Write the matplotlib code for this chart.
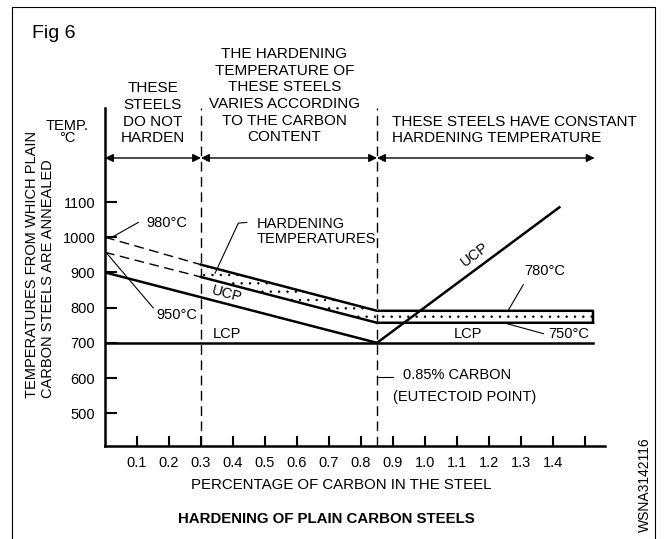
import matplotlib.pyplot as plt
import matplotlib.patches as patches

plt.rcParams['font.family'] = ['Liberation Sans', 'DejaVu Sans']
plt.rcParams['hatch.linewidth'] = 0.5

# carbon content (%) vs temperature (deg C)
x_lcp = [0.0, 1.525]
t_lcp = [700, 700]
x_anneal = [0.0, 0.85]
t_anneal = [900, 700]
x_ucp_dash = [0.0, 0.3]
t_ucp_dash = [957, 887]
x_hard_dash = [0.0, 0.3]
t_hard_dash = [1000, 922]
band_x = [0.3, 0.85, 1.525]
band_lo = [887, 757, 757]
band_hi = [922, 791, 791]
x_ucp_hyper = [0.85, 1.42]
t_ucp_hyper = [700, 1085]

x_ticks = [0.1, 0.2, 0.3, 0.4, 0.5, 0.6, 0.7, 0.8, 0.9, 1.0, 1.1, 1.2, 1.3, 1.4, 1.5]
x_ticklabels = ['0.1', '0.2', '0.3', '0.4', '0.5', '0.6', '0.7', '0.8', '0.9', '1.0',
                '1.1', '1.2', '1.3', '1.4', '']
y_ticks = [500, 600, 700, 800, 900, 1000, 1100]

fig = plt.figure(figsize=(6.64, 5.39), dpi=100)
ax = fig.add_axes([105 / 664, 1 - 446 / 539, 500 / 664, 338 / 539])
ax.set_xlim(0, 1.5625)
ax.set_ylim(407, 1367)

for side in ['top', 'right']:
    ax.spines[side].set_visible(False)
for side in ['left', 'bottom']:
    ax.spines[side].set_linewidth(1.8)

ax.set_xticks(x_ticks)
ax.set_xticklabels(x_ticklabels)
ax.set_yticks(y_ticks)
ax.tick_params(axis='x', direction='in', length=7, width=1.5, pad=7, labelsize=10.5)
ax.tick_params(axis='y', direction='in', length=8.5, width=1.5, pad=7, labelsize=10.5)

lw = 1.8
dash = (0, (7, 4))

# dotted hardening band
ax.fill_between(band_x, band_lo, band_hi, facecolor='white', edgecolor='black',
                hatch='..', linewidth=0)

ax.plot(x_lcp, t_lcp, color='black', lw=lw)
ax.plot(x_anneal, t_anneal, color='black', lw=lw)
ax.plot(x_ucp_dash, t_ucp_dash, color='black', lw=1, ls=dash)
ax.plot(x_hard_dash, t_hard_dash, color='black', lw=1, ls=dash)
ax.plot(band_x, band_lo, color='black', lw=lw)
ax.plot(band_x + [band_x[-1]], band_hi + [band_lo[-1]], color='black', lw=lw)
ax.plot(x_ucp_hyper, t_ucp_hyper, color='black', lw=lw)

# region boundaries
for xb in [0.3, 0.85]:
    ax.plot([xb, xb], [407, 1367], color='black', lw=1, ls=dash, clip_on=False)

# region arrows
arrow_y = 1225
for x0, x1 in [(0.0, 0.3), (0.3, 0.85), (0.85, 1.53)]:
    ax.annotate('', xy=(x0, arrow_y), xytext=(x1, arrow_y),
                arrowprops=dict(arrowstyle='<|-|>', color='black', lw=1,
                                mutation_scale=12, shrinkA=0, shrinkB=0),
                annotation_clip=False)

fs = 11
ax.text(0.15, 1352, 'THESE\nSTEELS\nDO NOT\nHARDEN', ha='center', va='center',
        fontsize=fs, linespacing=1.24)
ax.text(0.56, 1402, 'THE HARDENING\nTEMPERATURE OF\nTHESE STEELS\nVARIES ACCORDING\n'
        'TO THE CARBON\nCONTENT', ha='center', va='center', fontsize=fs, linespacing=1.24)
ax.text(0.897, 1304, 'THESE STEELS HAVE CONSTANT\nHARDENING TEMPERATURE',
        ha='left', va='center', fontsize=fs, linespacing=1.22)
ax.text(-0.119, 1317, 'TEMP.', ha='center', va='center', fontsize=10.5)
ax.text(-0.119, 1281, '°C', ha='center', va='center', fontsize=10.5)

# labels inside the chart
fl = 10.5
ax.text(0.38, 838, 'UCP', ha='center', va='center', rotation=-15, fontsize=fl)
ax.text(0.38, 724, 'LCP', ha='center', va='center', fontsize=fl)
ax.text(1.135, 724, 'LCP', ha='center', va='center', fontsize=fl)
ax.text(1.156, 950, 'UCP', ha='center', va='center', rotation=37, fontsize=fl)
ax.text(1.375, 905, '780°C', ha='center', va='center', fontsize=fl)
ax.plot([1.307, 1.26], [865, 792], color='black', lw=0.8)
ax.text(1.448, 725, '750°C', ha='center', va='center', fontsize=fl)
ax.plot([1.37, 1.25], [726, 756], color='black', lw=0.8)
ax.text(0.194, 1041, '980°C', ha='center', va='center', fontsize=fl)
ax.plot([0.104, 0.016], [1042, 997], color='black', lw=0.8)
ax.text(0.224, 780, '950°C', ha='center', va='center', fontsize=fl)
ax.plot([0.151, 0.003], [799, 957], color='black', lw=0.8)
ax.text(0.475, 1017, 'HARDENING\nTEMPERATURES', ha='left', va='center', fontsize=fl,
        linespacing=1.1)
ax.plot([0.443, 0.4166, 0.344], [1042, 1040, 898], color='black', lw=0.8)
ax.plot([0.85, 0.9], [604, 604], color='black', lw=0.8)
ax.text(0.931, 609, '0.85% CARBON', ha='left', va='center', fontsize=fl)
ax.text(0.9, 547, '(EUTECTOID POINT)', ha='left', va='center', fontsize=fl)

# figure texts
fig.text(32 / 664, 1 - 33 / 539, 'Fig 6', ha='left', va='center', fontsize=14)
fig.text(40 / 664, 1 - 398 / 539, 'TEMPERATURES FROM WHICH PLAIN\nCARBON STEELS ARE ANNEALED',
         rotation=90, ha='center', va='bottom', multialignment='left', fontsize=fl,
         linespacing=1.15)
fig.text(341 / 664, 1 - 485 / 539, 'PERCENTAGE OF CARBON IN THE STEEL',
         ha='center', va='center', fontsize=10.8)
fig.text(326 / 664, 1 - 519 / 539, 'HARDENING OF PLAIN CARBON STEELS',
         ha='center', va='center', fontsize=10.8, fontweight='bold')
fig.text(645 / 664, 1 - 485 / 539, 'WSNA3142116', rotation=90,
         ha='center', va='center', fontsize=10)

fig.patches.append(patches.Rectangle((12 / 664, -0.02), 643 / 664, 1 - 7 / 539 + 0.02,
                                     transform=fig.transFigure, fill=False,
                                     edgecolor='black', lw=0.8))

fig.savefig('out.png', dpi=100)
